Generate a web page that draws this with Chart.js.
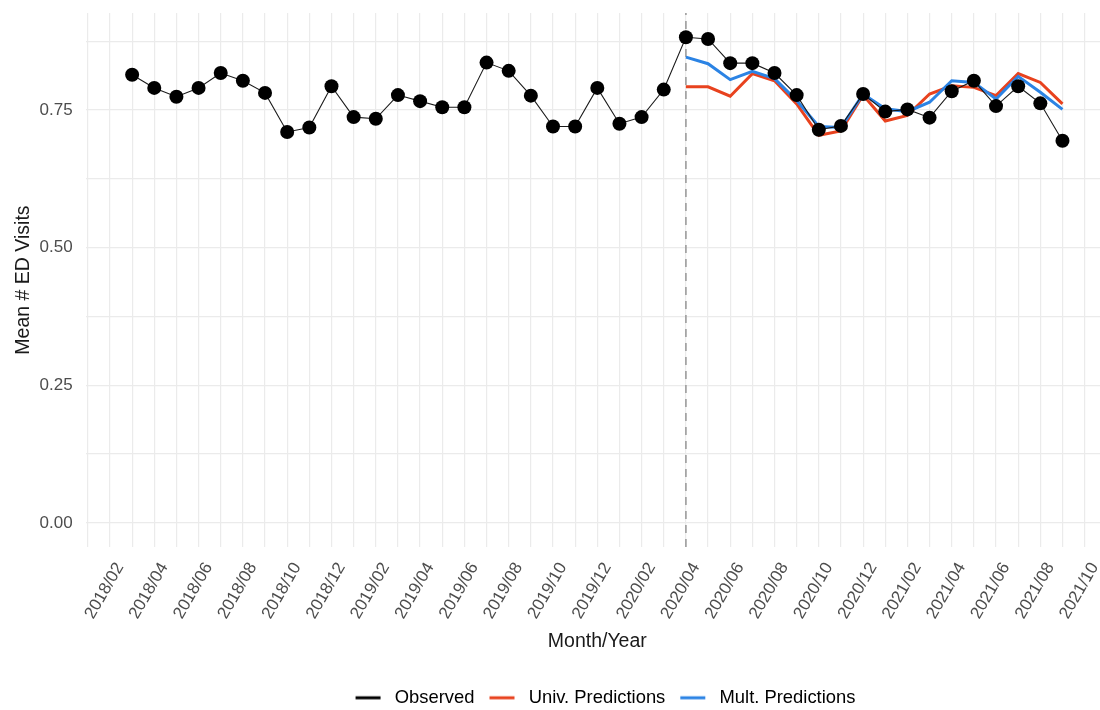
<!DOCTYPE html>
<html>
<head>
<meta charset="utf-8">
<script src="https://cdn.jsdelivr.net/npm/chart.js@4.4.1/dist/chart.umd.min.js"></script>
<style>
  html, body { margin: 0; padding: 0; background: #fff; overflow: hidden; width: 1100px; height: 710px; }
  #wrap { position: absolute; left: 0; top: 0; width: 1206px; height: 727px; }
</style>
</head>
<body>
<div id="wrap"><canvas id="chart" width="1206" height="727"></canvas></div>
<script>
// Monthly observed means
const months = [
  '2018/03','2018/04','2018/05','2018/06','2018/07','2018/08','2018/09','2018/10','2018/11','2018/12',
  '2019/01','2019/02','2019/03','2019/04','2019/05','2019/06','2019/07','2019/08','2019/09','2019/10','2019/11','2019/12',
  '2020/01','2020/02','2020/03','2020/04','2020/05','2020/06','2020/07','2020/08','2020/09','2020/10','2020/11','2020/12',
  '2021/01','2021/02','2021/03','2021/04','2021/05','2021/06','2021/07','2021/08','2021/09'
];
const observed = [
  0.814, 0.790, 0.774, 0.790, 0.817, 0.803, 0.781, 0.710, 0.718, 0.793,
  0.737, 0.734, 0.777, 0.766, 0.755, 0.755, 0.836, 0.821, 0.776, 0.720, 0.720, 0.790,
  0.725, 0.737, 0.787, 0.882, 0.879, 0.835, 0.835, 0.817, 0.777, 0.714, 0.721, 0.779,
  0.747, 0.751, 0.736, 0.784, 0.803, 0.757, 0.793, 0.762, 0.694
];

// Model predictions from the start of the pandemic period
const predMonths = [
  '2020/04','2020/05','2020/06','2020/07','2020/08','2020/09','2020/10','2020/11','2020/12',
  '2021/01','2021/02','2021/03','2021/04','2021/05','2021/06','2021/07','2021/08','2021/09'
];
const univPred = [
  0.792, 0.792, 0.775, 0.816, 0.803, 0.761, 0.704, 0.712, 0.777,
  0.730, 0.740, 0.779, 0.794, 0.791, 0.776, 0.816, 0.800, 0.761
];
const multPred = [
  0.846, 0.834, 0.805, 0.820, 0.807, 0.767, 0.720, 0.718, 0.779,
  0.752, 0.747, 0.764, 0.803, 0.800, 0.770, 0.811, 0.782, 0.751
];

const tickLabels = [
  '2018/02','2018/04','2018/06','2018/08','2018/10','2018/12',
  '2019/02','2019/04','2019/06','2019/08','2019/10','2019/12',
  '2020/02','2020/04','2020/06','2020/08','2020/10','2020/12',
  '2021/02','2021/04','2021/06','2021/08','2021/10'
];
const yTickValues = [0, 0.25, 0.5, 0.75];
const cutoverMonth = '2020/04';

// Months are placed on a linear axis counted from January 2018
const monthIndex = s => { const [y, m] = s.split('/').map(Number); return (y - 2018) * 12 + (m - 1); };

const xFirst = monthIndex(months[0]);
const xLast = monthIndex(months[months.length - 1]);
const xPad = 0.05 * (xLast - xFirst);
const xMin = xFirst - xPad, xMax = xLast + xPad;
const yTop = Math.max(...observed, ...univPred, ...multPred);
const yMin = -0.05 * yTop, yMax = yTop * 1.05;

const labelByIndex = {};
tickLabels.forEach(t => { labelByIndex[monthIndex(t)] = t; });

const FONT = "'Liberation Sans', Arial, sans-serif";

// Legend key: a short horizontal stroke with a little space either side
function legendKey(color) {
  const c = document.createElement('canvas');
  c.width = 35; c.height = 6;
  const g = c.getContext('2d');
  g.strokeStyle = color; g.lineWidth = 3;
  g.beginPath(); g.moveTo(5, 3); g.lineTo(30, 3); g.stroke();
  return c;
}

const series = [
  { label: 'Observed', color: '#000000' },
  { label: 'Univ. Predictions', color: '#e8421e' },
  { label: 'Mult. Predictions', color: '#2b83e4' }
];

const toPoints = (ms, vs) => ms.map((m, i) => ({ x: monthIndex(m), y: vs[i] }));

// Centre the legend on the whole figure rather than on the space left of the right margin
const legendCentre = {
  id: 'legendCentre',
  afterLayout(chart) {
    const lg = chart.legend;
    if (!lg) return;
    const w = lg.right - lg.left;
    lg.left = (chart.width - w) / 2;
    lg.right = lg.left + w;
  }
};

new Chart(document.getElementById('chart'), {
  type: 'line',
  plugins: [legendCentre],
  data: {
    datasets: [
      {
        label: series[0].label,
        data: toPoints(months, observed),
        borderColor: '#1a1a1a', borderWidth: 1.1,
        pointRadius: 7, pointBackgroundColor: '#000', pointBorderWidth: 0,
        order: 0
      },
      {
        label: series[1].label,
        data: toPoints(predMonths, univPred),
        borderColor: series[1].color, borderWidth: 3, pointRadius: 0,
        order: 2
      },
      {
        label: series[2].label,
        data: toPoints(predMonths, multPred),
        borderColor: series[2].color, borderWidth: 3, pointRadius: 0,
        order: 1
      },
      {
        label: 'cutover',
        data: [{ x: monthIndex(cutoverMonth), y: yMin }, { x: monthIndex(cutoverMonth), y: yMax }],
        borderColor: '#9c9c9c', borderWidth: 1.6, borderDash: [8, 6], pointRadius: 0,
        order: 3
      }
    ]
  },
  options: {
    responsive: false,
    animation: false,
    events: [],
    layout: { autoPadding: false, padding: { top: 13, left: 0, right: 97, bottom: 10 } },
    elements: { line: { tension: 0 } },
    scales: {
      x: {
        type: 'linear',
        min: xMin, max: xMax,
        afterBuildTicks: s => {
          const t = [];
          for (let i = Math.ceil(xMin); i <= Math.floor(xMax); i++) t.push({ value: i });
          s.ticks = t;
        },
        afterFit: s => { s.height = 131.5; },
        grid: { color: '#ebebeb', lineWidth: 1.2, drawTicks: false },
        border: { display: false },
        ticks: {
          autoSkip: false, minRotation: 60, maxRotation: 60,
          padding: 12, labelOffset: 10,
          color: '#4d4d4d', font: { family: FONT, size: 17 },
          callback: v => labelByIndex[v] || ''
        },
        title: {
          display: true, text: 'Month/Year', color: '#1a1a1a',
          font: { family: FONT, size: 19.5 }, padding: { top: 0, bottom: 25 }
        }
      },
      y: {
        min: yMin, max: yMax,
        afterBuildTicks: s => {
          const t = [];
          for (let k = 0; k * 0.125 <= yMax; k++) t.push({ value: k * 0.125 });
          s.ticks = t;
        },
        afterFit: s => { s.width = 85.6; s.paddingTop = 0; s.paddingBottom = 0; },
        grid: { color: '#ebebeb', lineWidth: 1.2, drawTicks: false },
        border: { display: false },
        ticks: {
          padding: 13, color: '#4d4d4d', font: { family: FONT, size: 17 },
          callback: v => yTickValues.some(t => Math.abs(t - v) < 1e-9) ? v.toFixed(2) : ''
        },
        title: {
          display: true, text: 'Mean # ED Visits', color: '#1a1a1a',
          font: { family: FONT, size: 19.5 }, padding: { top: 12, bottom: 0 }
        }
      }
    },
    plugins: {
      tooltip: { enabled: false },
      legend: {
        position: 'bottom',
        labels: {
          usePointStyle: true, pointStyleWidth: 35, padding: 10,
          color: '#222', font: { family: FONT, size: 18.4 },
          generateLabels: () => series.map((s, i) => ({
            text: s.label, datasetIndex: i, hidden: false,
            pointStyle: legendKey(s.color), fillStyle: s.color, strokeStyle: s.color, lineWidth: 0
          }))
        }
      }
    }
  }
});
</script>
</body>
</html>
